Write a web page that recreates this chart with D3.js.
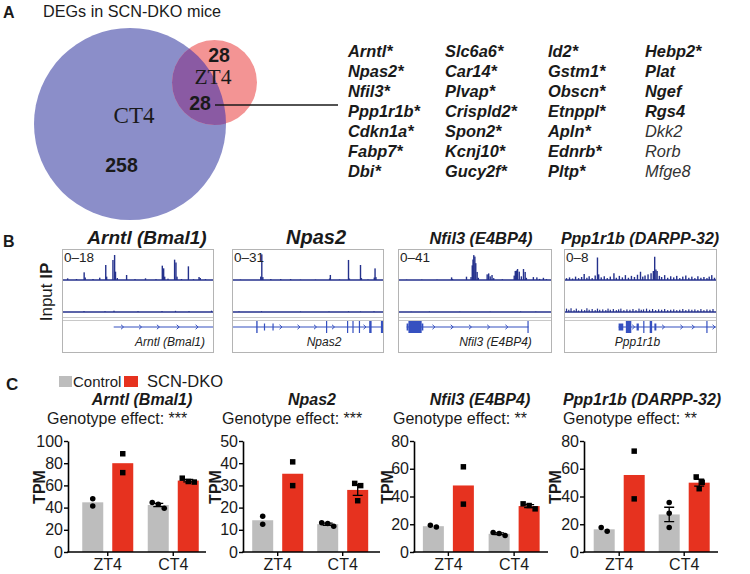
<!DOCTYPE html>
<html>
<head>
<meta charset="utf-8">
<script src="https://cdn.jsdelivr.net/npm/d3@7"></script>
<style>
  body { margin: 0; background: #fff; }
  svg { display: block; font-family: "Liberation Sans", Arial, sans-serif; }
</style>
</head>
<body>
<svg id="fig" width="750" height="574"></svg>
<script>
// ---------- data: panel A ----------
const vennOnlyCT4 = 258;
const vennOnlyZT4 = 28;
const vennShared = 28;

const degColumns = [
  ["Arntl*", "Npas2*", "Nfil3*", "Ppp1r1b*", "Cdkn1a*", "Fabp7*", "Dbi*"],
  ["Slc6a6*", "Car14*", "Plvap*", "Crispld2*", "Spon2*", "Kcnj10*", "Gucy2f*"],
  ["Id2*", "Gstm1*", "Obscn*", "Etnppl*", "Apln*", "Ednrb*", "Pltp*"],
  ["Hebp2*", "Plat", "Ngef", "Rgs4", "Dkk2", "Rorb", "Mfge8"]
];
const degNotBold = ["Dkk2", "Rorb", "Mfge8"];

// ---------- data: panel B (positions in % of the locus window, values in track units) ----------
const trackTitles = ["Arntl (Bmal1)", "Npas2", "Nfil3 (E4BP4)", "Ppp1r1b (DARPP-32)"];
const trackGeneNames = ["Arntl (Bmal1)", "Npas2", "Nfil3 (E4BP4)", "Ppp1r1b"];
const trackMax = [18, 31, 41, 8];

const ipArntl = [[3.1,1],[9,0.6],[14.1,4.6],[14.8,1.5],[20,0.6],[24.5,1.4],[28.5,9],[29.1,2],[33.3,12],
  [34.4,15],[35,5],[36.2,1.2],[42.4,3],[48,0.5],[55,1],[62,0.5],[66.2,8.6],[67.1,7],[67.8,2],[70,0.8],
  [74.4,12.2],[75.3,10.5],[76,2],[79,0.6],[83.6,8.2],[87,0.5],[90.7,1.8],[91.5,1.2],[95,0.5]];
const inputArntl = [[14,0.6],[28,0.5],[34,0.8],[50,0.5],[66,0.6],[75,0.7],[84,0.5],[99,0.8]];

const ipNpas2 = [[5,0.4],[18.5,3.5],[19.2,26.5],[19.9,3],[25.2,1],[31.8,1],[38.4,1],[45,0.4],[55,0.4],
  [64.4,1.5],[64.9,5.2],[71,0.5],[77,20.7],[77.6,1.5],[85,15.5],[85.6,2],[90,0.5],[94.2,2.5],[94.7,12],[95.3,3]];
const inputNpas2 = [[4,0.6],[19,0.8],[45,0.5],[64,0.5],[77,0.6],[85,0.5],[94,0.8]];

const ipNfil3 = [[5,0.5],[15,0.6],[25,0.5],[34.6,3.6],[35.2,1.5],[44.4,4.5],[47.4,4],[48.2,20],[48.7,28],
  [49.2,34],[49.9,32],[50.5,23],[51.4,11],[52.2,3],[58,7.7],[59,9],[60,5],[61.2,6.8],[62.3,2.5],[68,1],
  [75.8,6],[76.5,12.3],[77.3,13],[78,15],[79.1,11.4],[80.5,5],[81.9,15],[83,11],[83.8,3],[88.4,4],
  [90.7,3.6],[92.5,1.5],[95,3],[97,1.2]];
const inputNfil3 = [[8,0.4],[20,0.6],[40,0.5],[60,0.5],[80,0.7],[90,0.6]];

const ipPpp1r1b = [[1,0.5],[3,0.7],[5,0.4],[7,0.9],[9,0.5],[11,0.8],[12.7,1.6],[14.5,0.6],[16,1],[18,0.5],
  [20,1.2],[21.5,6],[22.3,1.5],[24,0.7],[26,1],[28,0.5],[30,0.9],[32.4,1.8],[34,0.6],[36,1.1],[38,0.7],
  [40,1.3],[42,0.6],[44,1.1],[46,0.8],[48,1.4],[50,2.2],[51.5,0.9],[53,1.2],[55,1.5],[57,1.8],[58.5,2.4],
  [59.4,6.2],[60.2,2.8],[61,2.4],[62.5,1.1],[64,0.8],[66,1.3],[68,0.6],[70,1],[72,0.7],[74,1.1],[76,0.5],
  [78,0.9],[80,1.2],[82,0.6],[84,0.9],[86,0.5],[88,1],[90,0.6],[92,0.8],[94,0.5],[95.5,0.9],[97.2,1.3],[99,0.6]];
const inputPpp1r1b = [[1,0.9],[2.5,0.6],[4,1],[6,0.5],[7.5,0.9],[9,0.4],[11,0.7],[13,0.5],[14.5,1],[16,0.6],
  [18,0.8],[20,0.5],[21.5,0.9],[23,0.6],[25,0.7],[27,0.5],[28.5,0.9],[30,0.6],[32,0.8],[34,0.5],[35.5,0.7],
  [37,0.9],[39,0.5],[41,0.7],[43,0.6],[45,0.8],[47,0.5],[49,0.9],[50.5,0.6],[52,0.7],[54,0.9],[56,0.6],
  [58,0.8],[60,0.5],[62,0.7],[64,0.6],[66,0.8],[68,0.5],[70,0.6],[72,0.7],[74,0.5],[76,0.6],[78,0.8],
  [80,0.5],[82,0.7],[84,0.6],[86,0.7],[88,0.5],[90,0.8],[92,0.5],[94,0.7],[96,0.6],[98,0.8]];

// gene models: intron span, exons [start, end, kind], strand arrows
const modelArntl = { span: [33.8, 100], exons: [], arrows: [39.7, 51.7, 63.6, 76.8, 89.4] };
const modelNpas2 = { span: [0, 100],
  exons: [[15.5,16.4,"cds"],[20.6,21.2,"utr"],[26.3,26.9,"utr"],[62,62.8,"cds"],[76,76.8,"cds"],
          [79.6,80.4,"cds"],[83.9,84.7,"cds"],[90.8,92.4,"cds"],[98.6,100,"cds"]],
  arrows: [32, 44, 55, 67, 88] };
const modelNfil3 = { span: [5, 85.2],
  exons: [[5,6.2,"utr"],[6.2,14.9,"cds"],[14.9,16,"utr"],[84.5,85.2,"cds"]],
  arrows: [23, 35, 47, 59, 71] };
const modelPpp1r1b = { span: [35.5, 100],
  exons: [[35.5,38.6,"utr"],[40.3,43.9,"cds"],[47.4,48.9,"utr"],[51.8,52.6,"cds"],[56.1,57.7,"cds"],
          [59.2,60.5,"utr"],[93.6,94.3,"cds"]],
  arrows: [45.5, 65.3, 77.4, 85, 98.7] };

const ipTracks = [ipArntl, ipNpas2, ipNfil3, ipPpp1r1b];
const inputTracks = [inputArntl, inputNpas2, inputNfil3, inputPpp1r1b];
const geneModels = [modelArntl, modelNpas2, modelNfil3, modelPpp1r1b];

// ---------- data: panel C (TPM per replicate) ----------
const timepoints = ["ZT4", "CT4"];
const genotypes = ["Control", "SCN-DKO"];
const barTitles = ["Arntl (Bmal1)", "Npas2", "Nfil3 (E4BP4)", "Ppp1r1b (DARPP-32)"];
const genotypeEffect = ["***", "***", "**", "**"];
const yMax = [100, 50, 80, 80];
const yStep = [20, 10, 20, 20];
// order: ZT4 Control, ZT4 SCN-DKO, CT4 Control, CT4 SCN-DKO
const tpmArntl   = [[48, 41.5], [88.5, 71.5], [44.5, 43, 39.5], [66.5, 63.5, 63]];
const tpmNpas2   = [[16.1, 12.5], [40.6, 29.9], [13.2, 12.8, 11.6], [30.9, 29.9, 23.1]];
const tpmNfil3   = [[18.0, 19.2], [61.4, 34.5], [14.1, 11.9, 13.3], [34.7, 31.1, 33.5]];
const tpmPpp1r1b = [[15.0, 17.7], [72.7, 38.3], [35.6, 27.9, 17.7], [54.1, 50.2, 45.6]];
const tpmAll = [tpmArntl, tpmNpas2, tpmNfil3, tpmPpp1r1b];

// ---------- drawing ----------
const svg = d3.select("#fig");
const INK = "#1a1a1a";
const TRACK = "#24318c";
const MODEL = "#3550c0";
const GRAY = "#bdbdbd";
const RED = "#e6321f";

function label(x, y, txt, size, opts = {}) {
  return svg.append("text")
    .attr("x", x).attr("y", y)
    .attr("font-size", size)
    .attr("font-weight", opts.bold ? "bold" : null)
    .attr("font-style", opts.italic ? "italic" : null)
    .attr("font-family", opts.serif ? '"Liberation Serif", "Times New Roman", serif' : null)
    .attr("text-anchor", opts.anchor || "start")
    .attr("fill", opts.fill || INK)
    .text(txt);
}

// ===== Panel A =====
label(3, 18, "A", 16, { bold: true });
label(43, 17, "DEGs in SCN-DKO mice", 16.2);

const rScale = d3.scaleSqrt().domain([0, vennOnlyCT4 + vennShared]).range([0, 96]);
const ct4 = { cx: 130, cy: 124, r: rScale(vennOnlyCT4 + vennShared) };
const zt4 = { cx: 214.5, cy: 82.5, r: rScale(vennOnlyZT4 + vennShared) };

const defs = svg.append("defs");
defs.append("clipPath").attr("id", "ct4clip")
  .append("circle").attr("cx", ct4.cx).attr("cy", ct4.cy).attr("r", ct4.r);

svg.append("circle").attr("cx", ct4.cx).attr("cy", ct4.cy).attr("r", ct4.r).attr("fill", "#8b8ec9");
svg.append("circle").attr("cx", zt4.cx).attr("cy", zt4.cy).attr("r", zt4.r).attr("fill", "#f39494");
svg.append("circle").attr("cx", zt4.cx).attr("cy", zt4.cy).attr("r", zt4.r)
  .attr("fill", "#8a5aa3").attr("clip-path", "url(#ct4clip)");

label(219, 62, vennOnlyZT4, 19.5, { bold: true, anchor: "middle" });
label(213, 84, "ZT4", 21.5, { serif: true, anchor: "middle" });
label(200, 110, vennShared, 19.5, { bold: true, anchor: "middle" });
label(134, 123, "CT4", 23, { serif: true, anchor: "middle" });
label(121.5, 172, vennOnlyCT4, 19.5, { bold: true, anchor: "middle" });

svg.append("line").attr("x1", 215).attr("x2", 338).attr("y1", 105).attr("y2", 105)
  .attr("stroke", INK).attr("stroke-width", 1.3);

const listX = [348, 445, 548, 645];
degColumns.forEach((col, c) => {
  col.forEach((g, r) => {
    label(listX[c], 57.3 + r * 20, g, 16.4,
      { bold: !degNotBold.includes(g), italic: true, fill: degNotBold.includes(g) ? "#333" : INK });
  });
});

// ===== Panel B =====
label(3, 247, "B", 16, { bold: true });
const inputLab = svg.append("text")
  .attr("transform", "translate(52,292) rotate(-90)")
  .attr("text-anchor", "middle").attr("font-size", 17).attr("fill", INK);
inputLab.append("tspan").text("Input ");
inputLab.append("tspan").attr("font-weight", "bold").text("IP");

const boxLeft = [62, 232, 398, 564];
const boxWidth = [151, 151, 153, 152];
const titleX = [147, 316, 481, 640];
const titleSize = [19, 20, 16.4, 16];
const nameX = [205, 324, 495.5, 637.5];
const nameAnchor = ["end", "middle", "middle", "middle"];
const boxTop = 249, boxBottom = 352;
const ipBase = 280, inBase = 312, modelY = 327;

boxLeft.forEach((left, i) => {
  const w = boxWidth[i];
  const g = svg.append("g");
  g.append("rect").attr("x", left + 0.5).attr("y", boxTop + 0.5)
    .attr("width", w).attr("height", boxBottom - boxTop)
    .attr("fill", "none").attr("stroke", "#b4b4b4").attr("stroke-width", 1);

  label(titleX[i], 244, trackTitles[i], titleSize[i], { bold: true, italic: true, anchor: "middle" });
  label(left + 2, 261.5, "0\u2013" + trackMax[i], 13.5, { fill: "#222" });

  const x = d3.scaleLinear().domain([0, 100]).range([left + 1, left + w]);
  const yIP = d3.scaleLinear().domain([0, trackMax[i]]).range([ipBase, ipBase - 30]);
  const yIn = d3.scaleLinear().domain([0, trackMax[i]]).range([inBase, inBase - 30]);

  g.selectAll(".ip").data(ipTracks[i]).join("rect")
    .attr("x", d => x(d[0]) - 0.7).attr("width", 1.4)
    .attr("y", d => yIP(d[1])).attr("height", d => ipBase - yIP(d[1]))
    .attr("fill", TRACK);
  g.selectAll(".inp").data(inputTracks[i]).join("rect")
    .attr("x", d => x(d[0]) - 0.6).attr("width", 1.2)
    .attr("y", d => yIn(d[1])).attr("height", d => inBase - yIn(d[1]))
    .attr("fill", TRACK);

  [ipBase, inBase].forEach(yb => {
    g.append("line").attr("x1", left + 1).attr("x2", left + w).attr("y1", yb).attr("y2", yb)
      .attr("stroke", TRACK).attr("stroke-width", 1.4);
  });
  [317.5, 320.5].forEach(yl => {
    g.append("line").attr("x1", left + 1).attr("x2", left + w).attr("y1", yl).attr("y2", yl)
      .attr("stroke", "#c8c8c8").attr("stroke-width", 1);
  });

  const m = geneModels[i];
  g.append("line").attr("x1", x(m.span[0])).attr("x2", x(m.span[1]))
    .attr("y1", modelY).attr("y2", modelY).attr("stroke", MODEL).attr("stroke-width", 1.2);
  g.selectAll(".arrow").data(m.arrows).join("path")
    .attr("d", d => `M${x(d) - 1.5},${modelY - 2.2}L${x(d) + 1},${modelY}L${x(d) - 1.5},${modelY + 2.2}`)
    .attr("fill", "none").attr("stroke", MODEL).attr("stroke-width", 1);
  g.selectAll(".exon").data(m.exons).join("rect")
    .attr("x", d => x(d[0]))
    .attr("width", d => Math.max(1.2, x(d[1]) - x(d[0])))
    .attr("y", d => modelY - (d[2] === "cds" ? 6 : 3.5))
    .attr("height", d => d[2] === "cds" ? 12 : 7)
    .attr("fill", MODEL);

  label(nameX[i], 346, trackGeneNames[i], 12, { italic: true, anchor: nameAnchor[i], fill: "#222" });
});

// ===== Panel C =====
label(6, 390, "C", 17, { bold: true });
svg.append("rect").attr("x", 59).attr("y", 376).attr("width", 13).attr("height", 11).attr("fill", GRAY);
label(73, 386.5, "Control", 15);
svg.append("rect").attr("x", 124).attr("y", 376).attr("width", 14).attr("height", 11).attr("fill", RED);
label(147, 386.5, "SCN-DKO", 16.5);

const chartLayout = [
  { axisX: 68,  band: [75, 206],    end: 206, tpmX: 39,  titleX: 142, effX: 47 },
  { axisX: 243, band: [245.2, 375.2], end: 380, tpmX: 215, titleX: 312, effX: 222 },
  { axisX: 414, band: [415.5, 547], end: 548, tpmX: 387, titleX: 480, effX: 393 },
  { axisX: 584, band: [586.7, 716.7], end: 718, tpmX: 555, titleX: 642, effX: 563 }
];
const yBottom = 552, yTop = 441;

function swarmOffsets(vals, y) {
  const order = vals.map((v, i) => i).sort((a, b) => vals[b] - vals[a]);
  const off = vals.map(() => 0);
  const clusters = [];
  let cur = [order[0]];
  for (let k = 1; k < order.length; k++) {
    if (Math.abs(y(vals[order[k - 1]]) - y(vals[order[k]])) < 5.5) cur.push(order[k]);
    else { clusters.push(cur); cur = [order[k]]; }
  }
  clusters.push(cur);
  clusters.forEach(c => c.forEach((j, n) => { off[j] = (n - (c.length - 1) / 2) * 6; }));
  return off;
}

chartLayout.forEach((L, ci) => {
  const data = tpmAll[ci];
  const g = svg.append("g");
  const x0 = d3.scaleBand().domain(timepoints).range(L.band).padding(0);
  const x1 = d3.scaleBand().domain(genotypes).range([-25.5, 25.5]).paddingInner(0.3);
  const y = d3.scaleLinear().domain([0, yMax[ci]]).range([yBottom, yTop]);

  label(L.titleX, 405, barTitles[ci], 16, { bold: true, italic: true, anchor: "middle" });
  label(L.effX, 424, "Genotype effect: " + genotypeEffect[ci], 16);

  const cells = [];
  timepoints.forEach((t, ti) => genotypes.forEach((gt, gi) => {
    const vals = data[ti * 2 + gi];
    cells.push({ t, gt, vals, mean: d3.mean(vals),
      sem: vals.length > 2 ? d3.deviation(vals) / Math.sqrt(vals.length) : null });
  }));
  const cx = d => x0(d.t) + x0.bandwidth() / 2 + x1(d.gt) + x1.bandwidth() / 2;

  g.selectAll(".bar").data(cells).join("rect")
    .attr("x", d => cx(d) - x1.bandwidth() / 2).attr("width", x1.bandwidth())
    .attr("y", d => y(d.mean)).attr("height", d => yBottom - y(d.mean))
    .attr("fill", d => d.gt === "Control" ? GRAY : RED);

  cells.forEach(d => {
    const off = swarmOffsets(d.vals, y);
    const sym = d3.symbol().type(d.gt === "Control" ? d3.symbolCircle : d3.symbolSquare)
      .size(d.gt === "Control" ? 24 : 30);
    g.selectAll(null).data(d.vals).join("path")
      .attr("d", sym)
      .attr("transform", (v, k) => `translate(${cx(d) + off[k]},${y(v)})`)
      .attr("fill", "#000");
    if (d.sem != null) {
      const xm = cx(d), top = y(d.mean + d.sem), bot = y(d.mean - d.sem);
      g.append("path")
        .attr("d", `M${xm},${top}V${bot}M${xm - 5},${top}H${xm + 5}M${xm - 5},${bot}H${xm + 5}`)
        .attr("stroke", "#000").attr("stroke-width", 1.3).attr("fill", "none");
    }
  });

  const yAxis = g.append("g").attr("transform", `translate(${L.axisX},0)`)
    .call(d3.axisLeft(y).tickValues(d3.range(0, yMax[ci] + 1, yStep[ci]))
      .tickSize(4).tickSizeOuter(0).tickPadding(1));
  yAxis.select(".domain").attr("stroke", "#000").attr("stroke-width", 1.6);
  yAxis.selectAll(".tick line").attr("stroke", "#000").attr("stroke-width", 1.4);
  yAxis.selectAll(".tick text").attr("font-size", 16).attr("fill", INK)
    .attr("font-family", '"Liberation Sans", Arial, sans-serif');

  const xAxis = g.append("g").attr("transform", `translate(0,${yBottom})`)
    .call(d3.axisBottom(x0).tickSize(4).tickSizeOuter(0).tickPadding(3));
  xAxis.select(".domain").remove();
  xAxis.selectAll(".tick line").attr("stroke", "#000").attr("stroke-width", 1.4);
  xAxis.selectAll(".tick text").attr("font-size", 16).attr("fill", INK)
    .attr("font-family", '"Liberation Sans", Arial, sans-serif');
  g.append("line").attr("x1", L.axisX - 0.8).attr("x2", L.end).attr("y1", yBottom).attr("y2", yBottom)
    .attr("stroke", "#000").attr("stroke-width", 1.6);

  g.append("text")
    .attr("transform", `translate(${L.tpmX + 6},487) rotate(-90)`)
    .attr("text-anchor", "middle").attr("font-size", 16).attr("font-weight", "bold")
    .attr("fill", INK).text("TPM");
});
</script>
</body>
</html>
